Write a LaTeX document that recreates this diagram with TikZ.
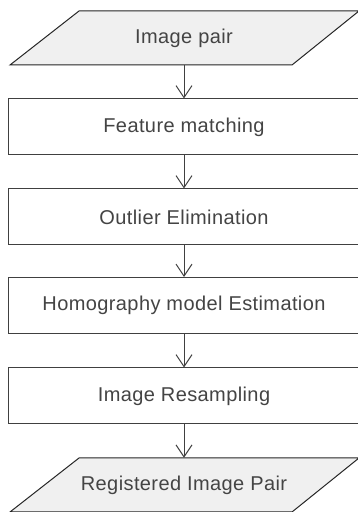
\documentclass[tikz,border=0pt]{standalone}
\usepackage{fontspec}
\setmainfont[LetterSpace=2]{Liberation Sans}
\usetikzlibrary{arrows.meta}
\definecolor{txt}{HTML}{444444}
\definecolor{ln}{HTML}{404040}
\definecolor{pfill}{HTML}{F0F0F0}
\tikzset{
  x=1pt,y=1pt,
  stepbox/.style={draw=ln, line width=1pt, fill=white, minimum width=352pt, minimum height=56pt, inner sep=0pt, text=txt, font=\fontsize{20}{24}\selectfont},
  iobox/.style={minimum width=200pt, minimum height=54pt, inner sep=0pt, text=txt, font=\fontsize{20}{24}\selectfont},
  para/.style={draw=black!85, line width=1pt, fill=pfill},
  flow/.style={draw=ln, line width=1pt, -{Straight Barb[length=12pt,width=16pt,line width=1pt]}}
}
\begin{document}
\begin{tikzpicture}
\useasboundingbox (0,0) rectangle (358,512);
\clip (0,0) rectangle (358,512);
\draw[para] (79,501) -- (359,501) -- (292,447) -- (10,447) -- cycle;
\node[iobox] (in) at (184,474) {Image pair};
\node[stepbox] (fm) at (184,385) {Feature matching};
\node[stepbox] (oe) at (184,295) {Outlier Elimination};
\node[stepbox] (he) at (184,206.5) {Homography model Estimation};
\node[stepbox] (ir) at (184,116) {Image Resampling};
\draw[para] (79,54) -- (359,54) -- (292,0) -- (10,0) -- cycle;
\node[iobox] (out) at (184,27) {Registered Image Pair};
\draw[flow] (in.south) -- (fm.north);
\draw[flow] (fm.south) -- (oe.north);
\draw[flow] (oe.south) -- (he.north);
\draw[flow] (he.south) -- (ir.north);
\draw[flow] (ir.south) -- (out.north);
\end{tikzpicture}
\end{document}
